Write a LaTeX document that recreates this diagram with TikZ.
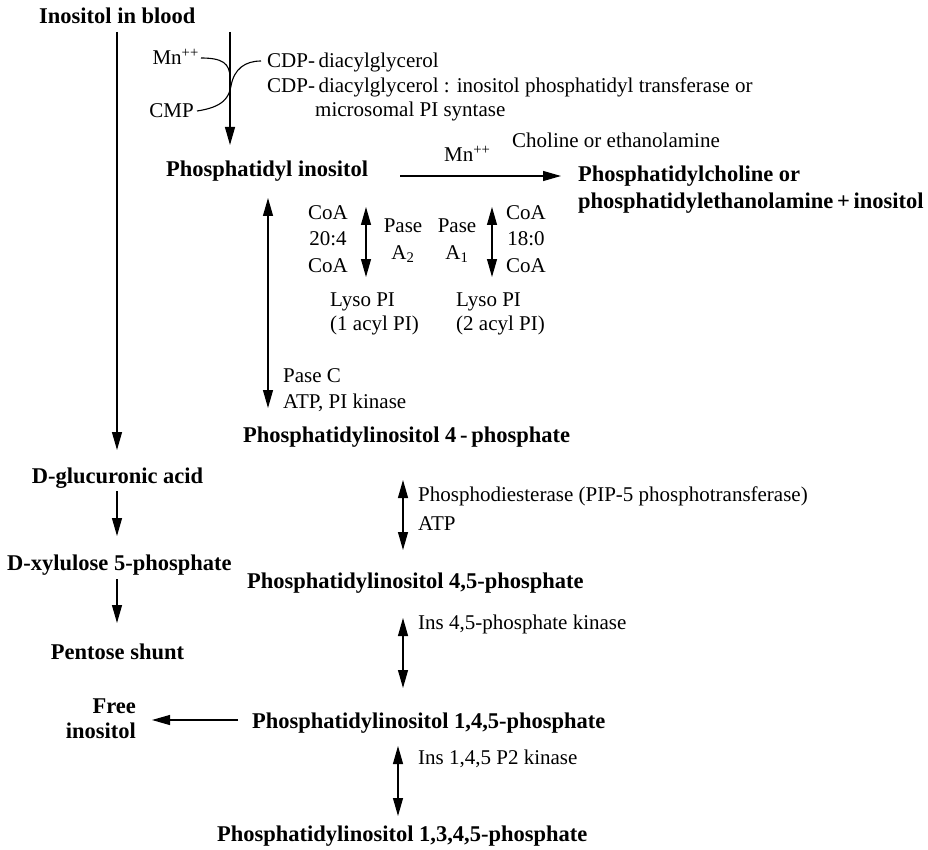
\documentclass[tikz,border=0pt]{standalone}
\usepackage{fontspec}
\setmainfont{Liberation Serif}
\usetikzlibrary{arrows.meta}
\begin{document}
\begin{tikzpicture}[x=1pt,y=-1pt,
  lbl/.style={inner sep=0pt, font=\fontsize{21}{24}\selectfont},
  bld/.style={inner sep=0pt, font=\fontsize{22.5}{26}\selectfont\bfseries},
  conn/.style={line width=1.1pt},
  arr/.style={conn, -{Triangle[length=18pt,width=10pt]}},
  darr/.style={conn, {Triangle[length=18pt,width=10pt]}-{Triangle[length=18pt,width=10pt]}}]
\useasboundingbox (0,0) rectangle (928,850);

% texts
\node[bld, anchor=base west] (blood) at (39,24) {Inositol in blood};
\node[lbl, anchor=base east] (mn1) at (199,65) {Mn\textsuperscript{++}};
\node[lbl, anchor=base east] (cmp) at (194,118) {CMP};
\node[lbl, anchor=base west] (cdp1) at (267,68) {CDP-\,diacylglycerol};
\node[lbl, anchor=base west] (cdp2) at (267,93) {CDP-\,diacylglycerol : inositol phosphatidyl transferase or};
\node[lbl, anchor=base west] (cdp3) at (315,117) {microsomal PI syntase};
\node[bld, anchor=base west] (pi) at (166,177) {Phosphatidyl inositol};
\node[lbl, anchor=base west] (mn2) at (444,162) {Mn\textsuperscript{++}};
\node[lbl, anchor=base west] (chol) at (512,148) {Choline or ethanolamine};
\node[bld, anchor=base west] (pc1) at (578,182) {Phosphatidylcholine or};
\node[bld, anchor=base west] (pc2) at (578,209) {phosphatidylethanolamine\,+\,inositol};

\node[lbl, anchor=base] (coaA) at (328,220) {CoA};
\node[lbl, anchor=base] (f204) at (328,246) {20:4};
\node[lbl, anchor=base] (coaB) at (328,272) {CoA};
\node[lbl, anchor=base] (pase2) at (403,233) {Pase};
\node[lbl, anchor=base] (a2) at (403,259) {A\textsubscript{2}};
\node[lbl, anchor=base] (pase1) at (457,233) {Pase};
\node[lbl, anchor=base] (a1) at (457,259) {A\textsubscript{1}};
\node[lbl, anchor=base] (coaC) at (526,220) {CoA};
\node[lbl, anchor=base] (f180) at (526,246) {18:0};
\node[lbl, anchor=base] (coaD) at (526,272) {CoA};

\node[lbl, anchor=base west] (lyso1) at (330,306) {Lyso PI};
\node[lbl, anchor=base west] (acyl1) at (330,330) {(1 acyl PI)};
\node[lbl, anchor=base west] (lyso2) at (456,306) {Lyso PI};
\node[lbl, anchor=base west] (acyl2) at (456,330) {(2 acyl PI)};

\node[lbl, anchor=base west] (pasec) at (283,382) {Pase C};
\node[lbl, anchor=base west] (atp1) at (283,408) {ATP, PI kinase};
\node[bld, anchor=base west] (pip) at (243,442) {Phosphatidylinositol 4\,-\,phosphate};

\node[bld, anchor=base] (gluc) at (117.5,483) {D-glucuronic acid};
\node[lbl, anchor=base west] (pde) at (418,501) {Phosphodiesterase (PIP-5 phosphotransferase)};
\node[lbl, anchor=base west] (atp2) at (418,530) {ATP};
\node[bld, anchor=base west] (xyl) at (7,570) {D-xylulose 5-phosphate};
\node[bld, anchor=base west] (pip2) at (247,588) {Phosphatidylinositol 4,5-phosphate};
\node[lbl, anchor=base west] (ins45) at (418,629) {Ins 4,5-phosphate kinase};
\node[bld, anchor=base] (pent) at (117.5,659) {Pentose shunt};
\node[bld, anchor=base east] (free1) at (136,713) {Free};
\node[bld, anchor=base east] (free2) at (136,738) {inositol};
\node[bld, anchor=base west] (pip3) at (252,728) {Phosphatidylinositol 1,4,5-phosphate};
\node[lbl, anchor=base west] (ins145) at (418,764) {Ins 1,4,5 P2 kinase};
\node[bld, anchor=base west] (pip4) at (217,841) {Phosphatidylinositol 1,3,4,5-phosphate};

% connector end points
\coordinate (l1s) at (117,32);   \coordinate (l1e) at (117,450);
\coordinate (l2s) at (230,32);   \coordinate (l2e) at (230,145);
\coordinate (mnS) at (201,58);   \coordinate (mnE) at (230,78);
\coordinate (cmpS) at (197,111); \coordinate (cmpM) at (231,86); \coordinate (cmpE) at (261,61);
\coordinate (hS) at (400,176);   \coordinate (hE) at (561,176);
\coordinate (dAs) at (268,198);  \coordinate (dAe) at (268,408);
\coordinate (dBs) at (366,207);  \coordinate (dBe) at (366,277);
\coordinate (dCs) at (492,207);  \coordinate (dCe) at (492,277);
\coordinate (g1) at (117,491);   \coordinate (g2) at (117,536);
\coordinate (x1) at (117,579);   \coordinate (x2) at (117,623);
\coordinate (dDs) at (403,480);  \coordinate (dDe) at (403,550);
\coordinate (dEs) at (403,618);  \coordinate (dEe) at (403,688);
\coordinate (fS) at (238,720);   \coordinate (fE) at (152,720);
\coordinate (dFs) at (398,746);  \coordinate (dFe) at (398,816);

% connectors
\draw[arr] (l1s) -- (l1e);
\draw[arr] (l2s) -- (l2e);
\draw[conn] (mnS) .. controls (222,58) and (230,63) .. (mnE);
\draw[conn] (cmpS) .. controls (224,107) and (229,97) .. (cmpM) .. controls (234,69) and (245,61) .. (cmpE);
\draw[arr] (hS) -- (hE);
\draw[darr] (dAs) -- (dAe);
\draw[darr] (dBs) -- (dBe);
\draw[darr] (dCs) -- (dCe);
\draw[arr] (g1) -- (g2);
\draw[arr] (x1) -- (x2);
\draw[darr] (dDs) -- (dDe);
\draw[darr] (dEs) -- (dEe);
\draw[arr] (fS) -- (fE);
\draw[darr] (dFs) -- (dFe);
\end{tikzpicture}
\end{document}
